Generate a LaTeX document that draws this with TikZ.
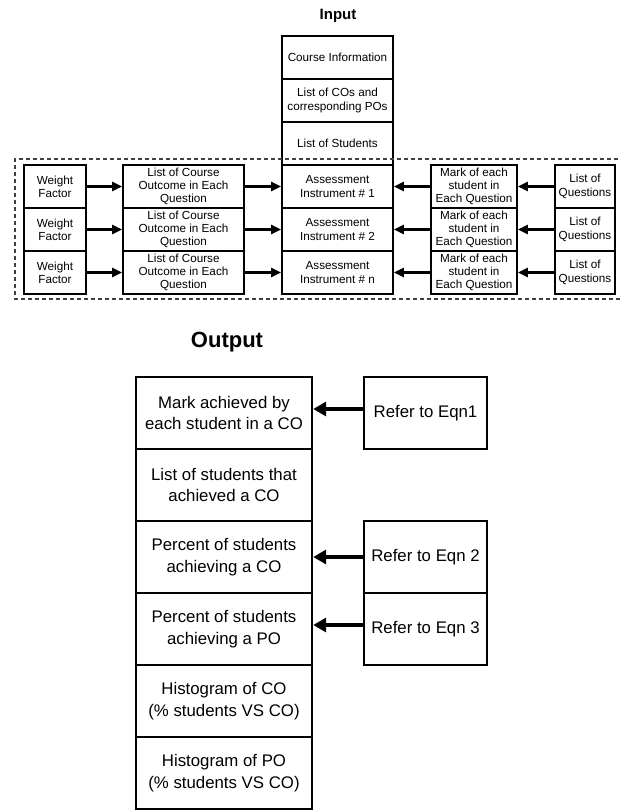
\documentclass[tikz,border=0pt]{standalone}
\usepackage{fontspec}
\setmainfont{Liberation Sans}
\usetikzlibrary{arrows.meta,positioning}

\begin{document}
\begin{tikzpicture}[x=1pt, y=-1pt,
  inbox/.style={draw, line width=1.8pt, align=center, inner sep=0pt, minimum height=43pt,
    font=\fontsize{11.7}{13.3}\selectfont},
  outbox/.style={draw, line width=2.4pt, align=center, inner sep=0pt, minimum height=72pt,
    font=\fontsize{16.8}{21.5}\selectfont},
  inarrow/.style={-{Triangle[length=10pt,width=9pt]}, line width=2.8pt},
  outarrow/.style={-{Triangle[length=13pt,width=14pt]}, line width=4pt}]
  \useasboundingbox (0,0) rectangle (620,811);
  \node[font=\bfseries\fontsize{15}{18}\selectfont] (intitle) at (338,16) {Input};
  \node[inbox, minimum width=111pt] (info) at (337.5,57.5) {Course Information};
  \node[inbox, minimum width=111pt] (cos) at (337.5,100.5) {List of COs and\\corresponding POs};
  \node[inbox, minimum width=111pt] (stud) at (337.5,143.5) {List of Students};
  \foreach \r/\k/\y in {1/1/186.5, 2/2/229.5, 3/n/272.5} {
    \node[inbox, minimum width=62pt] (wf\r) at (55,\y) {Weight\\Factor};
    \node[inbox, minimum width=121pt] (lco\r) at (183.5,\y) {List of Course\\Outcome in Each\\Question};
    \node[inbox, minimum width=111pt] (ai\r) at (337.5,\y) {Assessment\\Instrument \# \k};
    \node[inbox, minimum width=86pt] (mk\r) at (474,\y) {Mark of each\\student in\\Each Question};
    \node[inbox, minimum width=60pt] (lq\r) at (585,\y) {List of\\Questions};
    \draw[inarrow] (wf\r) -- (lco\r);
    \draw[inarrow] (lco\r) -- (ai\r);
    \draw[inarrow] (mk\r) -- (ai\r);
    \draw[inarrow] (lq\r) -- (mk\r);
  }
  \draw[line width=1.2pt, black!75, dash pattern=on 4pt off 3pt]
    (625,159) -- (15,159) -- (15,299) -- (625,299);

  \node[font=\bfseries\fontsize{22}{26}\selectfont] (outtitle) at (227,342) {Output};
  \node[outbox, minimum width=176pt] (o1) at (224,413) {Mark achieved by\\each student in a CO};
  \node[outbox, minimum width=176pt] (o2) at (224,485) {List of students that\\achieved a CO};
  \node[outbox, minimum width=176pt] (o3) at (224,557) {Percent of students\\achieving a CO};
  \node[outbox, minimum width=176pt] (o4) at (224,629) {Percent of students\\achieving a PO};
  \node[outbox, minimum width=176pt] (o5) at (224,701) {Histogram of CO\\(\% students VS CO)};
  \node[outbox, minimum width=176pt] (o6) at (224,773) {Histogram of PO\\(\% students VS CO)};
  \node[outbox, minimum width=123pt] (r1) at (425.5,413) {Refer to Eqn1};
  \node[outbox, minimum width=123pt] (r2) at (425.5,557) {Refer to Eqn 2};
  \node[outbox, minimum width=123pt] (r3) at (425.5,629) {Refer to Eqn 3};
  \draw[outarrow] ([yshift=4pt]r1.west) -- ([yshift=4pt]r1.west -| o1.east);
  \draw[outarrow] (r2) -- (o3);
  \draw[outarrow] ([yshift=4pt]r3.west) -- ([yshift=4pt]r3.west -| o4.east);
\end{tikzpicture}
\end{document}
